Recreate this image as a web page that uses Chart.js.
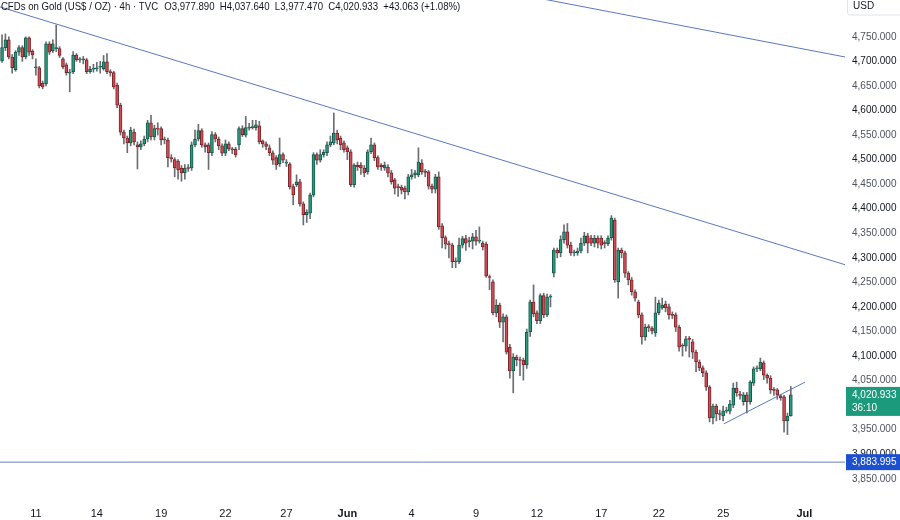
<!DOCTYPE html>
<html>
<head>
<meta charset="utf-8">
<script src="https://cdn.jsdelivr.net/npm/chart.js@4.4.1/dist/chart.umd.min.js"></script>
<style>
  html, body { margin: 0; padding: 0; background: #fff; }
</style>
</head>
<body>
<canvas id="goldChart" width="900" height="520"></canvas>
<script>
// #### DATA ####
// 4h candles, oldest first
let opens = [4701,4728,4744,4709,4683,4719,4728,4709,4748,4721,4687,4687,4656,4654,4736,4722,4726,4726,4705,4693,
  4676,4679,4713,4703,4703,4703,4679,4684,4685,4688,4685,4699,4679,4677,4652,4611,4556,4544,4534,4556,
  4530,4526,4532,4542,4575,4546,4563,4563,4540,4540,4504,4500,4497,4483,4473,4483,4483,4530,4542,4559,
  4530,4530,4514,4551,4542,4528,4513,4532,4521,4521,4530,4563,4550,4564,4565,4565,4569,4538,4532,4524,
  4514,4504,4491,4510,4493,4491,4445,4449,4455,4410,4388,4391,4428,4510,4499,4510,4514,4530,4534,4554,
  4544,4534,4524,4516,4449,4489,4489,4483,4475,4516,4530,4504,4489,4483,4485,4473,4459,4444,4444,4442,
  4434,4465,4469,4469,4493,4475,4475,4446,4440,4465,4365,4341,4328,4326,4292,4292,4326,4339,4333,4334,
  4343,4334,4330,4328,4261,4251,4188,4204,4169,4180,4118,4070,4098,4092,4092,4082,4149,4210,4188,4172,
  4223,4184,4220,4269,4316,4310,4337,4353,4326,4310,4310,4314,4330,4345,4340,4330,4340,4340,4330,4329,
  4341,4377,4251,4316,4310,4269,4255,4231,4210,4184,4139,4159,4157,4147,4188,4198,4206,4200,4184,4184,
  4159,4121,4120,4135,4129,4108,4088,4076,4066,4037,3974,3998,3982,3978,3988,3988,4000,4035,4021,4007,
  4021,4007,4045,4074,4074,4086,4061,4055,4031,4031,4019,4017,3968,3977.89];
let highs = [4754,4756,4750,4714,4722,4732,4732,4750,4750,4724,4705,4690,4660,4740,4740,4744,4774,4730,4708,4697,
  4684,4720,4716,4708,4710,4706,4690,4694,4698,4700,4712,4716,4683,4680,4656,4615,4560,4548,4566,4562,
  4536,4538,4548,4580,4590,4570,4575,4567,4546,4544,4510,4504,4500,4488,4490,4490,4536,4560,4572,4563,
  4534,4534,4557,4555,4546,4532,4540,4536,4525,4525,4567,4569,4588,4574,4580,4580,4578,4540,4536,4530,
  4518,4508,4544,4514,4500,4494,4450,4469,4460,4414,4398,4432,4514,4514,4520,4520,4536,4548,4595,4560,
  4548,4538,4528,4520,4492,4495,4494,4488,4520,4544,4534,4508,4492,4495,4490,4478,4462,4450,4448,4446,
  4470,4480,4478,4524,4500,4480,4478,4450,4470,4475,4370,4345,4334,4330,4300,4340,4344,4346,4342,4350,
  4356,4363,4334,4332,4265,4255,4215,4208,4186,4184,4124,4105,4102,4098,4096,4155,4214,4245,4192,4227,
  4228,4226,4225,4320,4320,4345,4367,4370,4332,4316,4320,4340,4352,4350,4346,4346,4345,4345,4335,4345,
  4386,4381,4320,4320,4314,4272,4260,4235,4214,4188,4165,4164,4160,4220,4214,4218,4212,4206,4190,4188,
  4163,4125,4140,4140,4134,4112,4092,4080,4070,4040,4002,4002,3990,3998,3996,4010,4045,4047,4028,4026,
  4026,4050,4078,4080,4096,4090,4064,4060,4036,4034,4022,4020,3984,4037.64];
let lows = [4698,4722,4705,4676,4680,4712,4700,4705,4712,4705,4672,4646,4644,4650,4714,4718,4720,4708,4685,4672,
  4638,4675,4700,4698,4695,4675,4676,4678,4680,4676,4682,4675,4670,4644,4606,4550,4532,4514,4528,4530,
  4481,4520,4528,4536,4540,4540,4550,4530,4532,4485,4495,4465,4460,4456,4460,4476,4478,4526,4538,4525,
  4515,4480,4508,4536,4520,4508,4508,4518,4512,4505,4520,4547,4546,4560,4562,4560,4532,4525,4520,4508,
  4490,4480,4486,4494,4486,4440,4408,4445,4405,4367,4372,4380,4424,4490,4495,4505,4508,4526,4530,4532,
  4520,4515,4500,4445,4444,4478,4470,4465,4470,4512,4498,4480,4478,4478,4465,4450,4430,4425,4430,4420,
  4428,4460,4462,4465,4470,4465,4440,4432,4432,4358,4320,4318,4300,4280,4280,4288,4320,4315,4322,4318,
  4326,4330,4316,4260,4235,4184,4180,4158,4129,4104,4055,4025,4080,4060,4051,4075,4140,4180,4166,4166,
  4178,4180,4200,4261,4300,4302,4330,4320,4305,4304,4305,4310,4325,4310,4325,4322,4320,4318,4320,4325,
  4336,4250,4218,4300,4260,4245,4224,4212,4178,4124,4132,4150,4145,4140,4184,4195,4190,4175,4176,4150,
  4110,4100,4110,4098,4095,4068,4070,4058,4030,3966,3962,3968,3970,3968,3984,3982,3995,4018,4012,4000,
  3984,4002,4040,4068,4070,4052,4045,4024,4020,4012,4010,3945,3940,3977.47];
let closes = [4728,4744,4709,4687,4719,4728,4709,4748,4719,4713,4688,4650,4648,4736,4719,4736,4727,4712,4689,4677,
  4677,4713,4703,4703,4704,4679,4684,4684,4686,4689,4699,4679,4677,4648,4611,4556,4544,4534,4560,4536,
  4526,4532,4542,4575,4546,4563,4562,4540,4540,4504,4502,4483,4479,4473,4483,4482,4530,4542,4559,4530,
  4526,4514,4551,4542,4528,4513,4532,4522,4520,4510,4563,4551,4565,4565,4566,4571,4536,4532,4527,4514,
  4499,4489,4510,4499,4494,4445,4428,4455,4410,4388,4393,4428,4510,4499,4510,4515,4530,4536,4554,4540,
  4530,4520,4516,4449,4489,4485,4483,4473,4516,4530,4504,4485,4485,4489,4473,4455,4442,4443,4438,4434,
  4465,4469,4473,4495,4475,4474,4446,4440,4465,4363,4341,4328,4327,4292,4293,4326,4339,4330,4334,4343,
  4334,4335,4322,4263,4260,4188,4204,4169,4180,4108,4070,4098,4092,4091,4082,4149,4210,4186,4172,4223,
  4184,4220,4221,4316,4310,4337,4353,4326,4310,4311,4314,4330,4345,4330,4330,4340,4330,4326,4329,4340,
  4381,4255,4316,4310,4269,4255,4231,4218,4184,4139,4159,4158,4151,4188,4208,4204,4198,4184,4183,4159,
  4118,4120,4135,4134,4108,4088,4076,4066,4037,3974,3998,3982,3981,3988,3989,4002,4035,4025,4020,4021,
  4007,4047,4074,4075,4088,4061,4055,4031,4030,4021,4015,3968,3978,4020.933];

// date labels on the time axis and the candle each one sits under
let dateLabels = ['11', '14', '19', '22', '27', 'Jun', '4', '9', '12', '17', '22', '25', 'Jul'];
let dateCandle = [10, 28, 47, 66, 84, 102, 121, 140, 158, 177, 194, 213, 237];

// drawn lines: [candle index, price] pairs
let trendTop = [[-0.6, 4811], [249, 4286]];
let trendUpper = [[150, 4840], [249, 4709]];
let trendRising = [[213.2, 3962], [237.2, 4047]];
let supportLevel = 3883.995;

let priceTicks = [];
for (let p = 3850; p <= 4750; p += 50) priceTicks.push(p);

let lastPrice = 4020.933;
let countdown = '36:10';
let headerText = 'CFDs on Gold (US$ / OZ) \u00b7 4h \u00b7 TVC';
let ohlcText = ['O3,977.890', 'H4,037.640', 'L3,977.470', 'C4,020.933', '+43.063 (+1.08%)'];

// #### BUILD DATASETS ####
let upFill = '#2a9a7b', downFill = '#d14d55';
let upEdge = '#14584a', downEdge = '#7a2429';

let wickData = lows.map((l, i) => ({x: i, y: [l, highs[i]]}));
let bodyData = opens.map((o, i) => ({x: i, y: [o, closes[i]]}));
let bodyFill = opens.map((o, i) => closes[i] >= o ? upFill : downFill);
let bodyEdge = opens.map((o, i) => closes[i] >= o ? upEdge : downEdge);

let toPoints = (arr) => arr.map(([x, y]) => ({x: x, y: y}));
let fmt = (v) => v.toLocaleString('en-US', {minimumFractionDigits: 3, maximumFractionDigits: 3});

let sansFont = '"Liberation Sans", Arial, sans-serif';
let lineStyle = {type: 'line', borderColor: '#5a78c2', borderWidth: 1, pointRadius: 0, fill: false, order: 0};

// #### OVERLAYS: header, USD box, price labels ####
let overlayPlugin = {
    id: 'overlay',
    afterDraw(chart) {
        let ctx = chart.ctx;
        let yScale = chart.scales.y;
        let right = chart.chartArea.right;
        ctx.save();

        // header line, squeezed a little to match the condensed UI font
        ctx.save();
        ctx.scale(0.875, 1);
        ctx.font = '11px ' + sansFont;
        ctx.fillStyle = '#131722';
        ctx.textBaseline = 'middle';
        ctx.textAlign = 'left';
        let x = 1;
        ctx.fillText(headerText, x, 7);
        x += ctx.measureText(headerText).width + 7;
        for (let t of ohlcText) {
            ctx.fillText(t, x, 7);
            x += ctx.measureText(t).width + 6;
        }
        ctx.restore();

        ctx.textBaseline = 'middle';
        ctx.textAlign = 'left';

        // USD box
        ctx.strokeStyle = '#e0e3eb';
        ctx.lineWidth = 1;
        ctx.beginPath();
        ctx.roundRect(right + 2.5, -4, 60, 19, 3);
        ctx.fillStyle = '#fff';
        ctx.fill();
        ctx.stroke();
        ctx.fillStyle = '#131722';
        ctx.font = '10px ' + sansFont;
        ctx.fillText('USD', right + 8, 6);

        // last price label
        let py = yScale.getPixelForValue(lastPrice);
        ctx.fillStyle = '#1c9a7c';
        ctx.fillRect(right + 1, py - 8, 55, 29);
        ctx.fillStyle = '#fff';
        ctx.font = '10px ' + sansFont;
        ctx.fillText(fmt(lastPrice), right + 7, py);
        ctx.fillText(countdown, right + 7, py + 13);

        // support level label
        let sy = yScale.getPixelForValue(supportLevel);
        ctx.fillStyle = '#1d4fd1';
        ctx.fillRect(right + 1, sy - 8, 55, 16);
        ctx.fillStyle = '#fff';
        ctx.fillText(fmt(supportLevel), right + 7, sy);

        ctx.restore();
    }
};

// #### CHART ####
let goldChart = new Chart(document.getElementById('goldChart').getContext('2d'), {
    type: 'bar',
    data: {
        datasets: [
            Object.assign({}, lineStyle, {data: toPoints(trendTop)}),
            Object.assign({}, lineStyle, {data: toPoints(trendUpper)}),
            Object.assign({}, lineStyle, {data: toPoints(trendRising)}),
            Object.assign({}, lineStyle, {
                borderColor: '#6c7fb6',
                data: [{x: -1, y: supportLevel}, {x: 250, y: supportLevel}]
            }),
            {
                data: bodyData,
                backgroundColor: bodyFill,
                borderColor: bodyEdge,
                borderWidth: 1,
                borderSkipped: false,
                barThickness: 3,
                minBarLength: 1,
                grouped: false,
                order: 1
            },
            {
                data: wickData,
                backgroundColor: '#6a6e74',
                barThickness: 1,
                grouped: false,
                order: 2
            }
        ]
    },
    options: {
        responsive: false,
        animation: false,
        layout: {padding: 0},
        plugins: {legend: {display: false}, tooltip: {enabled: false}},
        scales: {
            x: {
                type: 'linear',
                min: -0.6,
                max: 249,
                offset: false,
                grid: {display: false, drawTicks: false},
                border: {display: false},
                afterBuildTicks: (scale) => {
                    scale.ticks = dateCandle.map((v) => ({value: v}));
                },
                afterFit: (scale) => {
                    scale.height = 22;
                    scale.paddingLeft = 0;
                    scale.paddingRight = 0;
                },
                ticks: {
                    autoSkip: false,
                    maxRotation: 0,
                    padding: 9,
                    color: '#131722',
                    font: (c) => {
                        let k = dateCandle.indexOf(c.tick ? c.tick.value : -1);
                        let bold = k >= 0 && /[A-Z]/.test(dateLabels[k]);
                        return {family: sansFont, size: 11, weight: bold ? 'bold' : 'normal'};
                    },
                    callback: (value, index) => dateLabels[index]
                }
            },
            y: {
                position: 'right',
                min: 3811,
                max: 4825,
                grid: {display: false, drawTicks: false},
                border: {display: false},
                afterBuildTicks: (scale) => {
                    scale.ticks = priceTicks.map((v) => ({value: v}));
                },
                afterFit: (scale) => {
                    scale.width = 55;
                    scale.paddingTop = 0;
                    scale.paddingBottom = 0;
                },
                ticks: {
                    padding: 7,
                    font: {family: sansFont, size: 10},
                    color: (c) => (c.tick && c.tick.value % 100 === 0) ? '#131722' : '#50535e',
                    callback: (value) => fmt(value)
                }
            }
        }
    },
    plugins: [overlayPlugin]
});
</script>
</body>
</html>
